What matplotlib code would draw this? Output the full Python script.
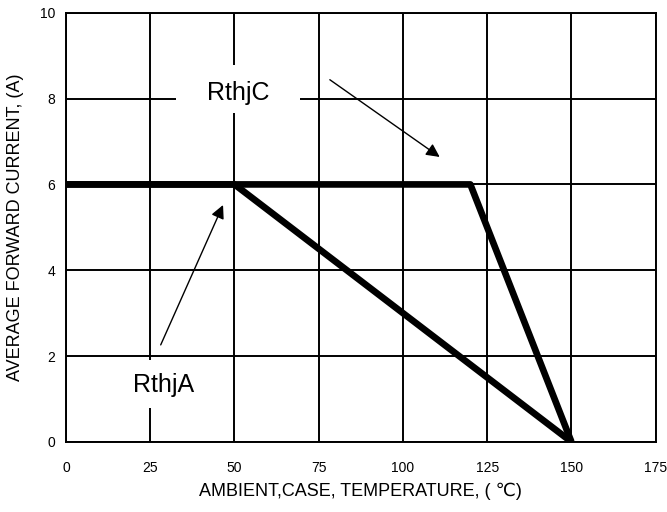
import matplotlib.pyplot as plt
from matplotlib.patches import Rectangle

plt.rcParams['font.family'] = ['Liberation Sans', 'DejaVu Sans']

# derating curves
rthjc_x = [0, 120, 150]
rthjc_y = [6, 6, 0]
rthja_x = [0, 50, 150]
rthja_y = [6, 6, 0]

x_ticks = [0, 25, 50, 75, 100, 125, 150, 175]
y_ticks = [0, 2, 4, 6, 8, 10]

fig = plt.figure(figsize=(6.67, 5.12), dpi=100)
ax = fig.add_axes([0.099, 0.137, 0.884, 0.838])

ax.set_xlim(0, 175)
ax.set_ylim(0, 10)
ax.set_xticks(x_ticks)
ax.set_yticks(y_ticks)
ax.tick_params(length=0, labelsize=10)
ax.tick_params(axis='x', pad=14)
ax.tick_params(axis='y', pad=8)
ax.grid(True, color='black', linewidth=1.4)
for s in ax.spines.values():
    s.set_linewidth(1.4)

ax.plot(rthjc_x, rthjc_y, color='black', linewidth=4.8, solid_capstyle='butt', zorder=3)
ax.plot(rthja_x, rthja_y, color='black', linewidth=4.8, solid_capstyle='butt', zorder=3)

# white boxes behind the labels
ax.add_patch(Rectangle((32.6, 7.67), 36.8, 1.12, facecolor='white', edgecolor='none', zorder=2.5))
ax.add_patch(Rectangle((13, 0.79), 29.7, 1.12, facecolor='white', edgecolor='none', zorder=2.5))
ax.text(51.0, 8.13, 'RthjC', fontsize=18, ha='center', va='center', zorder=4)
ax.text(28.9, 1.33, 'RthjA', fontsize=18, ha='center', va='center', zorder=4)

arrow = dict(arrowstyle='-|>', color='black', lw=1.0, mutation_scale=20, shrinkA=0, shrinkB=0)
ax.annotate('', xy=(110.9, 6.64), xytext=(78.3, 8.44), arrowprops=arrow, zorder=4)
ax.annotate('', xy=(46.6, 5.52), xytext=(28.1, 2.26), arrowprops=arrow, zorder=4)

ax.set_xlabel('AMBIENT,CASE, TEMPERATURE, ( ℃)', fontsize=13, labelpad=5)
ax.set_ylabel('AVERAGE FORWARD CURRENT, (A)', fontsize=13, labelpad=11)

fig.savefig('out.png', dpi=100)
